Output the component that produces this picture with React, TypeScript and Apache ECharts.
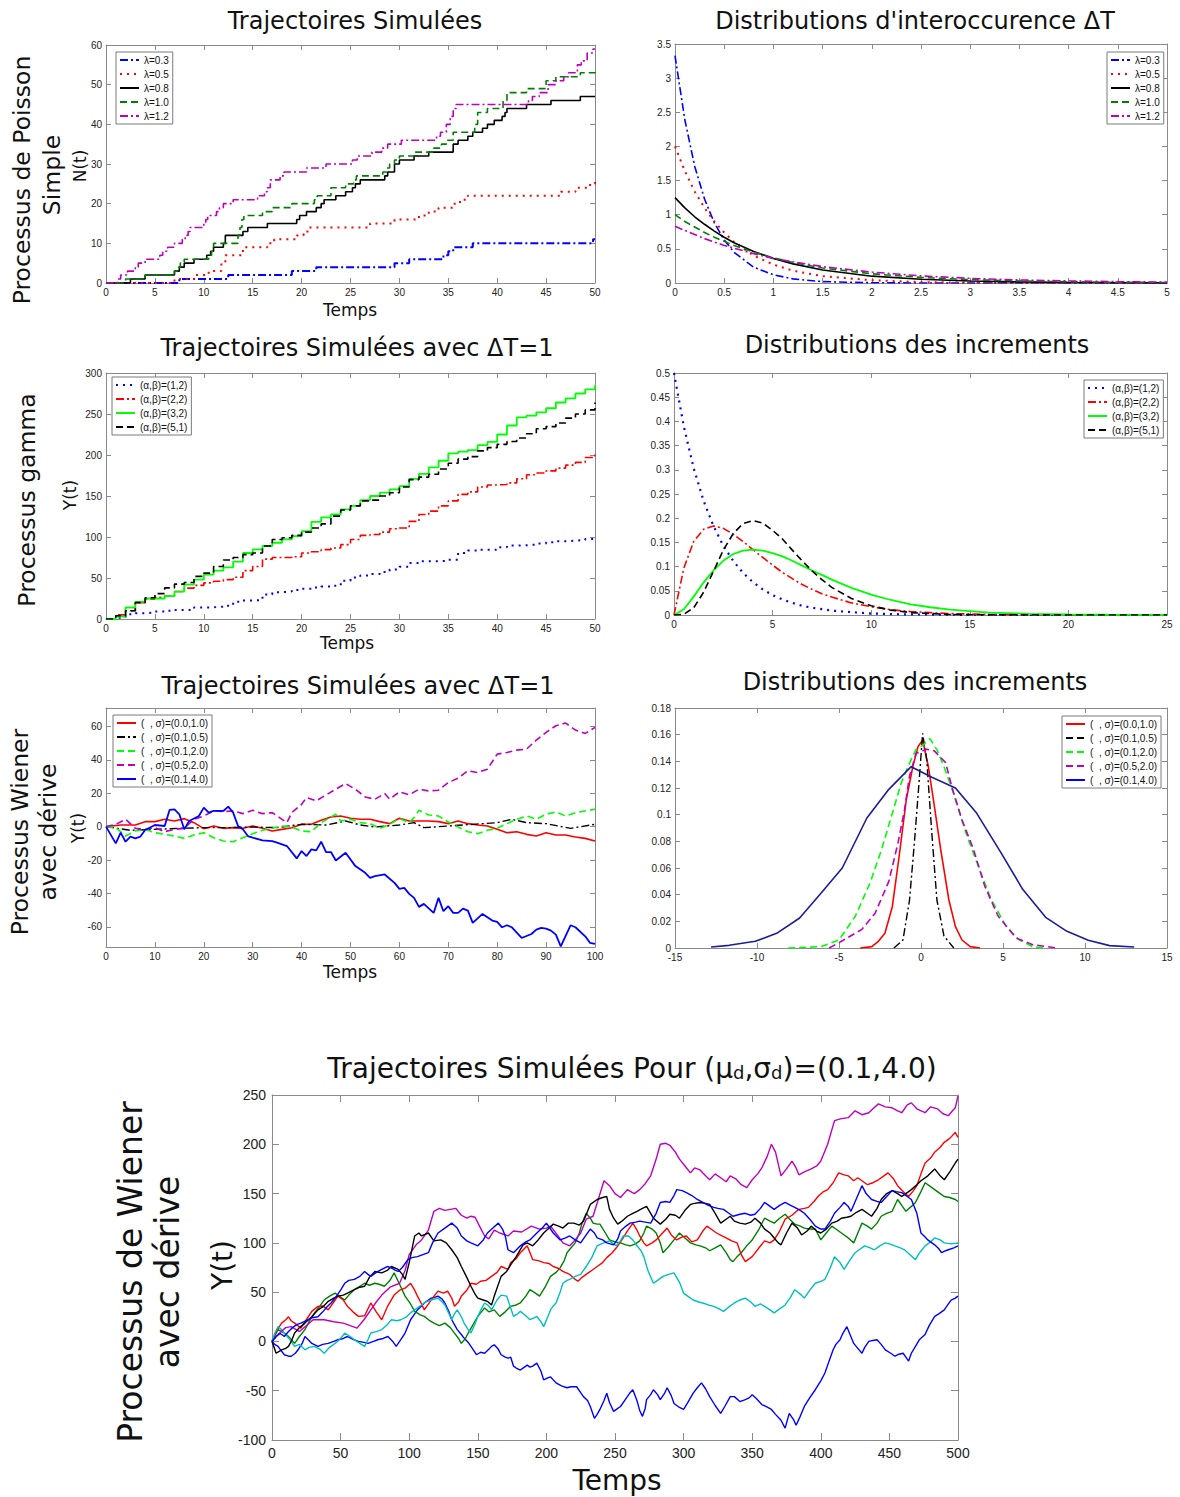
import React, { useEffect, useRef } from 'react';
import * as echarts from 'echarts';

// ---------- Panel 1 : Poisson trajectories (jump times / counts) ----------
const lambdaNames = ['λ=0.3', 'λ=0.5', 'λ=0.8', 'λ=1.0', 'λ=1.2'];
const poisT03 = [0, 7.5, 12.5, 19, 21.5, 29.5, 31, 34.5, 35, 35.5, 37.5, 49.8, 50];
const poisN03 = [0, 1, 2, 3, 4, 5, 6, 7, 8, 9, 10, 11, 11];
const poisT05 = [0, 7, 9, 10.5, 11.8, 12.2, 14, 16.5, 17.2, 19.5, 20.2, 20.8, 27, 29.5, 32, 33, 34, 35.5, 36.2, 37, 46.5, 48, 49.5, 50];
const poisN05 = [0, 1, 2, 3, 5, 7, 9, 10, 11, 12, 13, 14, 15, 16, 17, 18, 19, 20, 21, 22, 23, 24, 25, 26];
const poisT08 = [0, 2.5, 4, 7, 7.5, 8, 9, 10.3, 10.7, 11, 12, 12.2, 14, 14.5, 16.5, 19.5, 19.8, 20.5, 21.5, 22, 22.3, 23.5, 24.5, 25.2, 25.5, 26, 28.5, 28.8, 29.5, 30, 31.5, 33, 35.5, 36, 37, 37.5, 38.5, 39, 39.7, 40.5, 40.8, 41, 43, 45.5, 48.5, 50];
const poisN08 = [0, 1, 2, 3, 4, 5, 6, 7, 8, 9, 10, 12, 13, 14, 15, 16, 17, 18, 19, 20, 21, 22, 23, 24, 25, 26, 27, 28, 30, 31, 32, 33, 35, 36, 37, 38, 39, 40, 41, 42, 43, 44, 45, 46, 47, 47];
const poisT10 = [0, 2, 4, 7, 7.3, 7.6, 8, 10.5, 10.8, 11, 13.5, 13.7, 13.9, 14.1, 16, 17, 19, 21.3, 21.6, 23, 24.5, 25.3, 25.6, 28.3, 28.7, 29, 29.5, 30, 31.5, 33.5, 34.3, 34.8, 35.5, 37.7, 38, 39, 40.6, 41, 43, 45, 46, 48.5, 50];
const poisN10 = [0, 1, 2, 3, 4, 5, 6, 7, 8, 10, 12, 14, 16, 17, 18, 19, 20, 21, 22, 24, 25, 26, 27, 28, 29, 30, 31, 32, 33, 34, 35, 36, 38, 40, 43, 44, 46, 48, 49, 51, 52, 53, 54];
const poisT12 = [0, 1.2, 1.5, 2.2, 3.0, 3.3, 4.0, 5.5, 5.8, 6.3, 7.0, 7.8, 8.1, 8.4, 8.6, 10.0, 10.2, 10.4, 11.3, 11.6, 12.0, 13.0, 15.5, 16.2, 16.5, 16.8, 17.8, 18.2, 20.5, 22.5, 25.2, 25.7, 27.2, 28.2, 28.8, 30.2, 33.8, 34.2, 34.8, 35.2, 35.5, 35.8, 43.2, 43.6, 44.3, 45.2, 46.0, 46.8, 47.3, 48.2, 48.6, 49.2, 49.8, 50];
const poisN12 = [0, 1, 2, 3, 4, 5, 6, 7, 8, 9, 10, 11, 12, 13, 14, 15, 16, 17, 18, 19, 20, 21, 22, 23, 24, 26, 27, 28, 29, 30, 31, 32, 33, 34, 35, 36, 37, 38, 40, 42, 44, 45, 46, 47, 48, 50, 51, 52, 53, 55, 56, 58, 59, 59];

// ---------- Panel 2 : interoccurrence densities ----------
const expX = [0, 0.1, 0.2, 0.3, 0.4, 0.5, 0.6, 0.8, 1, 1.2, 1.5, 2, 2.5, 3, 3.5, 4, 4.5, 5];
const exp03 = [3.33, 2.39, 1.71, 1.23, 0.88, 0.63, 0.45, 0.23, 0.12, 0.06, 0.02, 0.004, 0, 0, 0, 0, 0, 0];
const exp05 = [2.0, 1.64, 1.34, 1.10, 0.90, 0.74, 0.60, 0.40, 0.27, 0.18, 0.10, 0.04, 0.013, 0.005, 0.002, 0, 0, 0];
const exp08 = [1.25, 1.10, 0.97, 0.86, 0.76, 0.67, 0.59, 0.46, 0.36, 0.28, 0.19, 0.10, 0.055, 0.029, 0.016, 0.008, 0.004, 0.002];
const exp10 = [1.0, 0.90, 0.82, 0.74, 0.67, 0.61, 0.55, 0.45, 0.37, 0.30, 0.22, 0.135, 0.082, 0.05, 0.03, 0.018, 0.011, 0.007];
const exp12 = [0.83, 0.77, 0.71, 0.65, 0.60, 0.55, 0.51, 0.43, 0.36, 0.31, 0.24, 0.16, 0.104, 0.068, 0.045, 0.030, 0.020, 0.013];

// ---------- Panel 3 : gamma process trajectories (ΔT=1) ----------
const gammaNames = ['(α,β)=(1,2)', '(α,β)=(2,2)', '(α,β)=(3,2)', '(α,β)=(5,1)'];
const gam12 = [0, 1.6, 5.7, 7, 7.8, 9, 10, 11, 11, 14, 14.3, 15, 16.3, 21, 22.5, 23, 30, 32.7, 33.5, 35.5, 36.8, 38.4, 39.6, 40.5, 46.6, 50.7, 53, 54.8, 57.2, 60.5, 63.8, 68.2, 70.3, 70.3, 71, 72.3, 80.5, 83.4, 84.6, 84.6, 87.5, 89.5, 90, 90.7, 92, 93.6, 94.8, 95.6, 96.4, 97.7, 99.7];
const gam22 = [0, 5, 10, 20, 24, 26.5, 28, 33.5, 37.6, 41, 44, 46, 48, 51, 59, 64, 73, 75, 75, 76, 80.5, 82, 84.6, 86.6, 90.7, 97, 102, 103, 106, 110, 111, 119, 127.5, 131.6, 138, 144, 152, 155, 161, 163.5, 164, 166, 171, 176, 178, 180.6, 184, 187.6, 191, 197, 204];
const gam32 = [0, 3, 14, 21, 25, 25, 28, 33.5, 42, 48, 54, 59, 63, 70, 80.5, 85, 89, 93, 97, 101, 107, 118.5, 124, 127.5, 133.6, 138, 145, 150, 154, 158, 162, 171, 177, 185, 193, 202, 204, 206, 212, 216, 225, 236, 246, 248, 252, 257, 264, 269, 275, 280, 285];
const gam51 = [0, 4, 10, 20, 26, 31, 38, 42.5, 44.5, 52, 56, 64, 72, 75, 78.5, 80.5, 89, 97, 99, 102, 106, 111, 116, 125.5, 133, 138, 144, 145, 150, 154, 161, 170, 173, 176.5, 183, 190, 195, 198, 205, 209, 213, 216.5, 220.7, 226, 232, 234.6, 239, 245, 250, 255, 264];

// ---------- Panel 4 : gamma increment densities ----------
const gamX = [0, 0.5, 1, 1.5, 2, 2.5, 3, 3.5, 4, 4.5, 5, 5.5, 6, 6.5, 7, 7.5, 8, 9, 10, 11, 12, 13, 14, 16, 18, 20, 22, 25];
const gpdf12 = [0.5, 0.389, 0.303, 0.236, 0.184, 0.143, 0.112, 0.087, 0.068, 0.053, 0.041, 0.032, 0.025, 0.019, 0.015, 0.012, 0.009, 0.006, 0.003, 0.002, 0.001, 0.001, 0.0005, 0.0002, 0.0001, 0, 0, 0];
const gpdf22 = [0, 0.097, 0.152, 0.177, 0.184, 0.179, 0.167, 0.152, 0.135, 0.119, 0.103, 0.088, 0.075, 0.063, 0.053, 0.044, 0.037, 0.025, 0.017, 0.011, 0.007, 0.005, 0.003, 0.001, 0.0006, 0.0002, 0.0001, 0];
const gpdf32 = [0, 0.012, 0.038, 0.067, 0.092, 0.112, 0.126, 0.133, 0.135, 0.133, 0.128, 0.121, 0.112, 0.102, 0.092, 0.083, 0.073, 0.056, 0.042, 0.031, 0.022, 0.016, 0.011, 0.005, 0.0025, 0.001, 0.0005, 0.0001];
const gpdf51 = [0, 0.0016, 0.015, 0.047, 0.090, 0.134, 0.168, 0.189, 0.195, 0.190, 0.175, 0.157, 0.134, 0.112, 0.091, 0.073, 0.057, 0.034, 0.019, 0.010, 0.005, 0.003, 0.001, 0.0003, 0.0001, 0, 0, 0];

// ---------- Panel 5 : Wiener trajectories ----------
const wienerNames = ['(\u00a0\u00a0, σ)=(0.0,1.0)', '(\u00a0\u00a0, σ)=(0.1,0.5)', '(\u00a0\u00a0, σ)=(0.1,2.0)', '(\u00a0\u00a0, σ)=(0.5,2.0)', '(\u00a0\u00a0, σ)=(0.1,4.0)'];
const wRed = [[0,0],[3,1],[6,1],[8,3],[10,3],[12,4.4],[14,3.4],[16,4.8],[18,2.4],[20,-1.2],[22,0.4],[24,-1],[26,-0.6],[28,-1],[30,0.4],[32,-1],[34,-2.6],[36,-1.6],[38,-0.6],[40,1.4],[42,1.4],[44,3.8],[46,5.8],[48,6.4],[50,5],[52,4.4],[54,4.4],[56,3],[58,1.8],[60,5],[62,3.4],[64,3.4],[66,3.4],[68,3],[70,1.8],[72,3.4],[74,1.8],[76,1],[78,0.4],[80,-1.6],[82,-3.6],[84,-3],[86,-4.6],[88,-5.6],[90,-3.6],[92,-5],[94,-5],[96,-6.2],[98,-7],[100,-8.6]];
const wBlack = [[0,0],[5,-2.2],[10,-1.6],[15,-1],[20,-0.6],[25,-0.6],[30,-0.2],[35,-0.6],[40,1.4],[45,1],[49,3.4],[52,1],[55,-0.2],[60,1],[63,2.4],[65,-0.6],[70,0.4],[75,1.4],[80,2.4],[83,4.4],[86,2.4],[90,1.8],[95,-1],[100,1.4]];
const wGreen = [[0,0],[2,-0.6],[4,-5.6],[6,-2.6],[8,-1.6],[10,-3.6],[12,-4.6],[14,-5.6],[16,-7],[18,-5],[20,-3.6],[22,-6.6],[24,-8.6],[26,-9],[28,-6.6],[30,-4.2],[32,-2.2],[34,-1],[36,0.4],[38,-0.2],[40,-2.6],[42,-3],[44,2.4],[46,5.8],[47,7.4],[48,3.4],[50,4.4],[52,2.4],[54,1.8],[56,-1],[58,1.4],[60,4.8],[62,2.4],[63,5.4],[64,9.8],[66,7],[68,6.4],[70,2.8],[72,-0.2],[74,-3],[76,-4.2],[78,-2.2],[80,-1],[82,1.8],[84,4.4],[86,6.4],[88,4.4],[90,7.4],[92,8.8],[94,6.4],[96,8.4],[98,9.4],[100,10.4]];
const wMagenta = [[0,0],[2,1.4],[4,4.4],[6,-1],[8,-1.6],[10,-0.6],[12,-3],[14,-1.6],[16,-1],[18,4.4],[20,6.4],[22,9.4],[24,9],[26,9.4],[28,7.8],[30,9.8],[32,7.8],[34,8.4],[36,4.4],[37,2.4],[38,8.4],[40,13.4],[41,17.4],[43,15.4],[45,19],[47,22.4],[49,25.8],[51,22.4],[53,17.8],[55,16.4],[57,19.8],[58,16.4],[60,20.8],[62,19],[64,22.4],[66,21.4],[68,21.8],[70,26.4],[72,29],[74,33.4],[76,32.4],[78,34.4],[80,43.4],[82,44.4],[84,45.8],[86,46.4],[88,51.8],[90,56.4],[92,60.4],[94,62],[96,57.8],[98,55.8],[100,59.4]];
const wBlue = [[0,0],[2,-10],[3,-3.6],[4,-9],[5,-6],[6,-7],[7,-6],[8,-2],[10,1],[12,0.4],[13,10],[14,10.4],[15,7.4],[16,-1.6],[17,3.4],[19,6.4],[20,11.4],[21,8.4],[22,9.4],[24,9.4],[25,12],[26,8.4],[27,0.4],[28,-1.6],[29,-5.6],[30,-6.6],[32,-8.2],[34,-8.6],[35,-9.6],[37,-11.6],[39,-19],[40,-14.6],[41,-17.6],[42,-13.6],[43,-14.2],[44,-9],[45,-15.2],[46,-15.2],[47,-20.2],[49,-15.6],[51,-23.6],[53,-27.6],[54,-30.6],[55,-29.6],[57,-28.6],[59,-33.6],[60,-37.2],[61,-36.6],[62,-40.2],[63,-42.6],[64,-48],[65,-46.2],[67,-51.6],[68,-42.6],[69,-50.6],[70,-47.6],[71,-51.6],[72,-51.6],[73,-49],[74,-50.2],[75,-57.6],[77,-52.2],[79,-56.2],[80,-57],[81,-60.2],[82,-59],[83,-60.2],[85,-66.6],[87,-64.2],[88,-61.6],[89,-60.6],[90,-61],[91,-62.2],[92,-64.6],[93,-71.6],[95,-59],[96,-60.2],[98,-65.6],[99,-69.6],[100,-70.2]];
const wienerYTicks = [-60, -40, -20, 0, 20, 40, 60];

// ---------- Panel 6 : normal increment densities ----------
const nRed = [[-3.7,0],[-3,0.001],[-2.6,0.005],[-2.2,0.011],[-1.75,0.031],[-1.33,0.069],[-0.9,0.111],[-0.5,0.136],[-0.18,0.151],[0.1,0.156],[0.45,0.136],[0.76,0.111],[1.2,0.074],[1.7,0.036],[2.1,0.016],[2.5,0.006],[3,0.001],[3.6,0]];
const nBlack = [[-1.65,0],[-1.1,0.006],[-0.7,0.036],[-0.39,0.081],[-0.12,0.124],[0.1,0.161],[0.35,0.141],[0.66,0.086],[0.97,0.036],[1.4,0.009],[2,0]];
const nGreen = [[-8.1,0],[-6.1,0.001],[-5,0.006],[-4,0.024],[-3.1,0.049],[-2.4,0.074],[-1.75,0.101],[-1.2,0.124],[-0.8,0.136],[-0.3,0.149],[0.1,0.152],[0.55,0.157],[1,0.148],[1.4,0.136],[1.9,0.119],[2.75,0.086],[3.5,0.061],[4.3,0.036],[5.2,0.016],[6,0.006],[6.8,0.001],[7.5,0]];
const nMagenta = [[-5.6,0],[-5,0.004],[-3.6,0.014],[-2.8,0.026],[-1.96,0.05],[-1.4,0.079],[-1,0.104],[-0.7,0.129],[-0.3,0.146],[0.35,0.149],[0.8,0.148],[1.5,0.139],[1.9,0.12],[2.5,0.096],[3.2,0.074],[3.9,0.046],[4.7,0.024],[5.8,0.0075],[6.8,0.0025],[8.3,0]];
const nBlue = [[-12.8,0.0008],[-11.7,0.002],[-10.1,0.005],[-8.8,0.011],[-7.4,0.0225],[-6.1,0.041],[-4.8,0.06],[-3.3,0.0975],[-1.96,0.119],[-0.6,0.136],[0.66,0.128],[2.1,0.12],[3.4,0.101],[4.9,0.071],[6.2,0.044],[7.6,0.023],[8.9,0.0125],[10.2,0.0058],[11.5,0.0018],[13,0.0008]];

// ---------- Panel 7 : Wiener with drift (μd,σd)=(0.1,4.0) ----------
const trMagenta = [[0,0],[5,8],[10,14],[14,15],[20,10],[25,16],[30,22],[38,22],[45,20],[52,18.6],[57,16],[62,13.5],[67,22],[72,32],[76,40],[80,47],[86,55],[93,59],[97,72],[100,88],[105,98],[109,103],[114,113],[118,132],[122,135],[126,133],[130,134],[134,135],[138,128],[142,125],[145,127],[148,126],[152,115],[155,107],[158,104],[162,113],[166,110],[172,107],[176,112],[182,111],[189,117],[195,114],[200,115],[203,117],[208,108],[212,100],[217,97],[221,103],[225,110],[229,124],[234,127],[238,145],[242,163],[246,158],[250,150],[254,146],[259,154],[264,150],[268,154],[272,160],[276,168],[280,185],[283,200],[287,201],[290,199],[294,192],[297,185],[301,178],[305,171],[308,176],[312,174],[316,168],[319,164],[323,170],[327,166],[331,162],[334,168],[338,165],[342,159],[346,156],[350,164],[354,170],[357,176],[361,188],[364,200],[367,192],[371,168],[375,175],[379,183],[382,176],[384,169],[388,172],[393,175],[397,178],[400,183],[405,200],[410,224],[415,226],[420,227],[425,234],[430,230],[435,232],[438,236],[442,241],[447,238],[452,237],[456,234],[459,232],[463,240],[466,242],[470,236],[476,232],[480,238],[485,236],[489,231],[493,229],[496,234],[498,237],[500,249]];
const trRed = [[0,0],[3,10],[7,18.6],[10,22],[12,25],[14,21],[16.5,18.6],[21,13.5],[25,22],[29,30.5],[33.5,35.6],[37,36],[41,32],[45,40],[48,46],[52,42],[55,35.6],[59,30],[63,25.4],[67.5,26],[72,39],[76,30],[80,22],[84,35],[89,47],[93,52],[97,54],[101,59],[104,52],[106,46],[109,38],[111,32],[116,42],[121,51],[125,49],[128,51],[131,44],[133,35.6],[136,40],[138,46],[142,52],[145,59],[149,58],[152,61],[156,62],[160,66],[164,70],[167,76],[172,73],[174,80],[178,84],[181,90],[186,97],[190,83],[194,82],[198,80],[202,79],[205,76],[209,74],[212,71],[217,68],[220,64],[223,61],[226,65],[229,68],[233,72],[237,76],[241,80],[244,85],[248,90],[251,95],[255,103],[259,112],[263,120],[266,113],[268,107],[271,100],[273,97],[277,100],[280,103],[284,109],[288,115],[291,108],[295,103],[299,106],[302,107],[306,101],[310,103],[314,112],[317,117],[321,113],[324,110],[328,107],[331,105],[335,102],[339,100],[342,88],[345,81],[350,86],[355,95],[359,102],[363,100],[366,103],[370,112],[374,124],[379,128],[384,134],[388,135],[391,136],[395,142],[398,147],[402,152],[405,154],[409,161],[413,171],[417,169],[420,168],[424,163],[427,166],[431,162],[434,159],[438,161],[442,164],[446,168],[449,171],[453,165],[456,158],[460,152],[464,147],[467,152],[470,158],[473,170],[476,181],[480,186],[483,192],[487,197],[490,202],[494,206],[498,212],[500,207]];
const trBlack = [[0,0],[3,-12],[7,-8.5],[10,-7],[12,-5],[14,0],[16.5,8.5],[20,14],[24,18.6],[29,25],[33.5,32],[37,35],[41,40.7],[45,44],[48,46],[52,47],[55,49],[60,52.5],[64,55],[67.5,56],[71,65],[75,71],[80,69.5],[84,72],[87,76],[92,73],[95,68],[97,63],[100,80],[104,107],[107,110],[109,107],[114,110],[118,102],[123,103],[127,100],[131,93],[135,85],[138,76],[142,65],[145,56],[148,48],[150,44],[154,42],[157,40.7],[160,37],[162,46],[167,66],[171,71],[175,80],[178,86],[183,98],[186,100],[190,97],[194,103],[198,110],[202,115],[205,119],[209,117],[212,115],[216,120],[220,120],[224,118],[227,122],[230,132],[232,139],[237,144],[241,146],[244,147],[246,134],[249,125],[252,119],[255,122],[259,127],[263,130],[266,132],[270,135],[273,137],[276,130],[278,125],[283,119],[287,124],[290,129],[294,128],[297,125],[301,133],[305,139],[308,140],[312,141],[316,140],[319,139],[323,130],[327,120],[331,124],[334,127],[337,122],[341,120],[345,119],[349,121],[352,125],[356,120],[359,114],[363,110],[366,105],[369,100],[371,98],[375,110],[379,120],[383,115],[386,108],[390,112],[393,117],[397,112],[400,110],[404,114],[408,120],[412,122],[415,125],[419,126],[422,127],[426,131],[430,134],[434,130],[437,127],[441,135],[444,144],[448,150],[452,153],[456,150],[459,147],[463,151],[466,154],[470,159],[473,163],[478,168],[483,175],[487,168],[490,164],[494,172],[498,181],[500,185]];
const trGreen = [[0,0],[3,8],[4.4,12],[7,10],[9,8.5],[12,5],[16.5,-2],[20,5],[24,12],[27,20],[31,29],[35,36],[38,42],[42,46],[46,49],[49,46],[53,42],[56,47],[60,52.5],[64,56],[67.5,59],[71,57],[75,59],[78,58],[82,56],[86,62],[89,69.5],[93,58],[97,46],[101,38],[104,30.5],[108,27],[111,25.4],[115,21],[118,18.6],[122,16],[126,18.6],[130,14],[133,8.5],[136,3],[138,-2],[141,3],[143,8.5],[147,18],[150,25.4],[155,34],[158,30],[162,32],[166,25.4],[170,30],[174,35.6],[178,37],[181,39],[185,46],[188,52.5],[192,49],[195,46],[199,55],[203,66],[207,70],[210,74.6],[213,82],[215,90],[218,95],[221,100],[224,110],[226,120],[229,130],[232,125],[234,120],[237,119],[239,119],[243,110],[246,103],[250,101],[254,100],[258,98],[261,97],[265,99],[268,102],[271,110],[273,117],[277,114],[280,110],[283,100],[285,90],[289,96],[293,103],[297,110],[301,105],[305,100],[309,98],[312,97],[316,95],[319,92],[323,95],[327,98],[331,90],[334,83],[336,81],[339,86],[342,90],[346,97],[350,103],[355,114],[359,125],[363,122],[366,120],[370,125],[374,129],[378,123],[381,119],[385,117],[388,115],[392,114],[396,114],[400,103],[404,110],[408,117],[412,113],[415,110],[420,105],[424,100],[427,110],[430,120],[434,117],[437,114],[441,120],[444,127],[448,130],[452,132],[456,144],[459,138],[462,132],[466,137],[469,141],[473,152],[476,161],[480,157],[483,154],[487,150],[490,147],[494,146],[498,144],[500,142]];
const trCyan = [[0,0],[2,8],[4.4,15],[7,12],[9,8.5],[13,2],[16.5,-5],[20,-3],[24,-8.5],[27,-6],[31,-5],[35,-8],[38,-12],[42,-6],[46,-2],[50,3],[53,8.5],[57,5],[60,1.7],[64,-2],[67.5,-5],[70,2],[72,8.5],[76,10],[80,12],[84,17],[87,22],[91,21],[94,22],[98,25],[101,29],[105,33],[109,37],[112,40],[116,42],[121,44],[124,40],[126,37],[129,28],[131,22],[133,28],[135,32],[138,25],[140,18.6],[143,12],[145,8.5],[148,18],[150,25.4],[153,34],[155,39],[158,36],[160,32],[164,42],[167,47],[171,46],[174,34],[176,25.4],[179,28],[181,30.5],[185,26],[188,22],[191,24],[193,25.4],[196,20],[198,15],[201,25],[203,32],[205,36],[207,39],[210,50],[212,59],[215,62],[217,63],[221,66],[225,68],[227,72],[229,76],[233,85],[237,97],[240,99],[242,100],[246,102],[249,99],[251,97],[254,102],[256,107],[260,107],[263,103],[266,97],[269,92],[271,86],[274,72],[278,59],[281,62],[285,66],[289,68],[293,69.5],[297,60],[300,49],[304,45],[307,42],[311,40],[314,39],[318,37],[322,35.6],[326,33],[329,30.5],[333,35],[337,39],[341,42],[345,44],[349,40],[352,35.6],[356,38],[359,35.6],[363,32],[366,29],[370,33],[374,37],[378,45],[381,52.5],[385,48],[388,44],[392,52],[396,59],[400,61],[403,63],[407,75],[410,86],[414,80],[417,73],[421,82],[425,90],[429,94],[432,97],[436,95],[439,93],[443,97],[447,100],[450,99],[454,97],[458,95],[461,93],[465,88],[469,83],[472,90],[476,97],[480,101],[483,105],[487,103],[490,100],[495,99],[500,100]];
const trBlueUp = [[0,0],[3,5],[6,8],[9,5],[12,10],[15,14],[18,17],[21,18.6],[25,21],[29,24],[33.5,25],[37,30],[40,35],[43,39],[47,46],[50,52],[53,59],[56,62],[60,63],[64,66],[67.5,71],[70,68],[72,66],[76,70],[80,73],[84,76],[87,74.6],[90,72],[92,71],[95,75],[99,83],[102,85],[106,86],[110,88],[114,90],[117,100],[121,110],[126,115],[131,120],[135,115],[138,107],[142,102],[145,100],[150,97],[154,103],[157,110],[161,115],[165,120],[168,114],[170,107],[172,93],[176,90],[181,97],[185,101],[188,103],[193,110],[197,115],[200,120],[205,110],[210,103],[214,105],[217,107],[221,103],[225,100],[229,108],[232,114],[235,110],[237,105],[241,103],[244,100],[249,98],[252,104],[254,112],[258,117],[261,120],[265,121],[268,122],[272,121],[276,120],[280,130],[283,141],[287,142],[290,141],[293,148],[295,154],[299,153],[302,151],[306,148],[310,144],[314,141],[318,138],[322,136],[325,135],[329,134],[333,130],[336,127],[341,129],[345,130],[349,128],[352,129],[356,135],[359,141],[363,137],[366,134],[370,138],[374,141],[378,138],[381,136],[385,133],[388,130],[392,124],[396,117],[400,114],[403,114],[407,122],[410,130],[414,136],[417,141],[420,137],[422,132],[426,145],[430,158],[433,150],[437,144],[441,142],[444,141],[448,147],[452,153],[455,152],[459,151],[463,147],[466,144],[470,130],[473,110],[476,106],[478,103],[481,100],[483,98],[486,94],[488,90],[491,92],[493,93],[497,95],[500,97]];
const trBlueLow = [[0,0],[2,-3],[4.4,-5],[7,-10],[9,-13.5],[12,-15],[14,-15],[17,-12],[19,-8.5],[22,-2],[24,5],[27,1],[29,-2],[33.5,-5],[37,-3],[41,-2],[45,0],[48,1.7],[52,3],[55,5],[59,2],[63,0],[67,-1],[70,-2],[74,0],[77,1.7],[81,3],[84.5,5],[88,0],[90.5,-5],[94,2],[97,8.5],[101,22],[104,28],[106,32],[109,36],[111,39],[114,42],[116,44],[119,45],[121,46],[124,43],[126,39],[129,30],[131,22],[133,17],[135,12],[138,7],[140,3.4],[143,-1],[145,-5],[147,-9],[149,-13.5],[152,-11],[155,-12],[158,-8],[160,-5],[162,-3.4],[165,-8],[167,-13.5],[170,-16],[172,-17],[174,-16],[176,-25],[178,-27],[181,-29],[184,-26],[186,-24],[188,-26],[190,-25],[193,-22],[196,-30],[198,-39],[201,-37],[203,-36],[205,-39],[207,-42],[211,-45],[215,-47],[218,-46],[222,-46],[225,-52],[227,-56],[230,-60],[232,-66],[235,-78],[237,-74],[239,-69],[242,-60],[244,-52.5],[246,-62],[249,-71],[251,-69],[254,-66],[257,-60],[259,-56],[261,-52],[263,-49],[266,-60],[268,-70],[270,-76],[272,-68],[273,-59],[276,-54],[278,-49],[281,-54],[283,-59],[286,-53],[288,-47],[291,-55],[293,-63],[297,-67],[300,-69],[303,-62],[307,-52.5],[310,-47],[313,-42],[316,-48],[319,-56],[323,-65],[327,-73],[330,-66],[334,-56],[337,-56],[341,-61],[345,-59],[348,-57],[350,-54],[353,-58],[357,-64],[360,-66],[364,-69],[367,-74],[371,-80],[374,-88],[377,-73],[380,-79],[382,-85],[385,-76],[388,-66],[392,-57],[396,-49],[400,-40],[403,-32],[406,-20],[409,-8.5],[411,-3],[414,1.7],[416,8],[419,15],[421,8],[424,-2],[427,-7],[430,-12],[432,-6],[435,0],[438,1],[441,1.7],[444,-3],[447,-8.5],[451,-12],[454,-15],[457,-13],[460,-12],[462,-16],[464,-20],[466,-12],[469,-5],[472,2],[476,7],[479,16],[483,25.4],[486,28],[490,32],[493,38],[495,42],[498,44],[500,46]];

// ---------- styling ----------
const BLUE = '#0000ff', RED = '#ff0000', BLACK = '#000000', DGREEN = '#008000', MAG = '#bf00bf', LGREEN = '#00ff00', CYAN = '#00bfbf', NAVY = '#1c1c9c';
const DASHDOT = [8, 3, 2, 3];
const DASHED = [7, 4];
const DOTTED = [2, 5];
const AX = '#8a8a8a';
const TICKFONT = 'Liberation Sans';
const TEXTFONT = 'DejaVu Sans';

const grids = [
  { left: 106, top: 45, width: 489, height: 238 },
  { left: 675, top: 44, width: 492, height: 239 },
  { left: 106, top: 373, width: 489, height: 246 },
  { left: 674, top: 373, width: 493, height: 242 },
  { left: 106, top: 708, width: 489, height: 239 },
  { left: 675, top: 708, width: 492, height: 240 },
  { left: 272, top: 1095, width: 686, height: 345 },
];
const axSpecs: any[] = [
  { x: { min: 0, max: 50, interval: 5 }, y: { min: 0, max: 60, interval: 10 }, fs: 10 },
  { x: { min: 0, max: 5, interval: 0.5 }, y: { min: 0, max: 3.5, interval: 0.5 }, fs: 10 },
  { x: { min: 0, max: 50, interval: 5 }, y: { min: 0, max: 300, interval: 50 }, fs: 10 },
  { x: { min: 0, max: 25, interval: 5 }, y: { min: 0, max: 0.5, interval: 0.05 }, fs: 10 },
  { x: { min: 0, max: 100, interval: 10 }, y: { min: -72, max: 71, custom: wienerYTicks }, fs: 10 },
  { x: { min: -15, max: 15, interval: 5 }, y: { min: 0, max: 0.18, interval: 0.02 }, fs: 10 },
  { x: { min: 0, max: 500, interval: 50 }, y: { min: -100, max: 250, interval: 50 }, fs: 14 },
];

function mkAxis(gi: number, pos: string, s: any, labels: boolean, fs: number) {
  const a: any = {
    type: 'value', gridIndex: gi, position: pos, min: s.min, max: s.max,
    axisLine: { show: true, onZero: false, lineStyle: { color: AX, width: 1 } },
    axisTick: { show: true, inside: true, length: fs > 10 ? 7 : 5, lineStyle: { color: AX } },
    axisLabel: { show: labels, fontSize: fs, color: '#222', fontFamily: TICKFONT, margin: fs > 10 ? 6 : 4, showMinLabel: true, showMaxLabel: true },
    splitLine: { show: false },
  };
  if (s.custom) {
    a.axisTick.customValues = s.custom;
    a.axisLabel.customValues = s.custom;
  } else {
    a.interval = s.interval;
  }
  return a;
}

function ln(gi: number, name: string | undefined, data: any[], color: string, type: any, width: number, step?: string) {
  const s: any = {
    type: 'line', xAxisIndex: gi * 2, yAxisIndex: gi * 2, data,
    symbol: 'none', showSymbol: false, silent: true, clip: true, animation: false,
    lineStyle: { color, width, type, cap: 'butt' }, itemStyle: { color },
  };
  if (name) s.name = name;
  if (step) s.step = step;
  return s;
}

const pairs = (xs: number[], ys: number[]) => xs.map((x, i) => [x, ys[i]]);
const idxPairs = (ys: number[]) => ys.map((y, i) => [i, y]);

function txt(text: string, x: number, y: number, size: number, rot = 0, extra: any = {}) {
  return {
    type: 'text', x, y, rotation: rot, silent: true,
    style: { text, fontSize: size, fontFamily: TEXTFONT, fill: '#111', align: 'center', verticalAlign: 'middle', textAlign: 'center', textVerticalAlign: 'middle', ...extra },
  };
}

function legend(left: number, top: number, data: any[]) {
  return {
    orient: 'vertical', left, top, data, selectedMode: false,
    itemWidth: 19, itemHeight: 10, itemGap: 4,
    itemStyle: { opacity: 0, borderWidth: 0 },
    textStyle: { fontSize: 10, fontFamily: TICKFONT, color: '#111' },
    borderColor: '#7a7a7a', borderWidth: 1, borderRadius: 0, backgroundColor: '#ffffff',
    padding: [3, 4, 3, 3],
  };
}

function buildOption() {
  const xAxis: any[] = [];
  const yAxis: any[] = [];
  axSpecs.forEach((s, gi) => {
    xAxis.push(mkAxis(gi, 'bottom', s.x, true, s.fs));
    xAxis.push(mkAxis(gi, 'top', s.x, false, s.fs));
    yAxis.push(mkAxis(gi, 'left', s.y, true, s.fs));
    yAxis.push(mkAxis(gi, 'right', s.y, false, s.fs));
  });

  const series: any[] = [
    // panel 1
    ln(0, lambdaNames[0], pairs(poisT03, poisN03), BLUE, DASHDOT, 2, 'end'),
    ln(0, lambdaNames[1], pairs(poisT05, poisN05), RED, DOTTED, 2, 'end'),
    ln(0, lambdaNames[2], pairs(poisT08, poisN08), BLACK, 'solid', 1.6, 'end'),
    ln(0, lambdaNames[3], pairs(poisT10, poisN10), DGREEN, DASHED, 1.6, 'end'),
    ln(0, lambdaNames[4], pairs(poisT12, poisN12), MAG, DASHDOT, 1.6, 'end'),
    // panel 2
    ln(1, lambdaNames[0], pairs(expX, exp03), BLUE, DASHDOT, 1.6),
    ln(1, lambdaNames[1], pairs(expX, exp05), RED, DOTTED, 2),
    ln(1, lambdaNames[2], pairs(expX, exp08), BLACK, 'solid', 1.6),
    ln(1, lambdaNames[3], pairs(expX, exp10), DGREEN, DASHED, 1.6),
    ln(1, lambdaNames[4], pairs(expX, exp12), MAG, DASHDOT, 1.6),
    // panel 3
    ln(2, gammaNames[0], idxPairs(gam12), BLUE, DOTTED, 2, 'end'),
    ln(2, gammaNames[1], idxPairs(gam22), RED, DASHDOT, 1.6, 'end'),
    ln(2, gammaNames[2], idxPairs(gam32), LGREEN, 'solid', 1.8, 'end'),
    ln(2, gammaNames[3], idxPairs(gam51), BLACK, DASHED, 1.6, 'end'),
    // panel 4
    ln(3, gammaNames[0], pairs(gamX, gpdf12), BLUE, DOTTED, 2.2),
    ln(3, gammaNames[1], pairs(gamX, gpdf22), RED, DASHDOT, 1.6),
    ln(3, gammaNames[2], pairs(gamX, gpdf32), LGREEN, 'solid', 1.8),
    ln(3, gammaNames[3], pairs(gamX, gpdf51), BLACK, DASHED, 1.6),
    // panel 5
    ln(4, wienerNames[0], wRed, RED, 'solid', 1.6),
    ln(4, wienerNames[1], wBlack, BLACK, DASHDOT, 1.4),
    ln(4, wienerNames[2], wGreen, LGREEN, DASHED, 1.6),
    ln(4, wienerNames[3], wMagenta, MAG, DASHED, 1.6),
    ln(4, wienerNames[4], wBlue, BLUE, 'solid', 1.8),
    // panel 6
    ln(5, wienerNames[0], nRed, RED, 'solid', 1.6),
    ln(5, wienerNames[1], nBlack, BLACK, DASHDOT, 1.4),
    ln(5, wienerNames[2], nGreen, LGREEN, DASHED, 1.6),
    ln(5, wienerNames[3], nMagenta, MAG, DASHED, 1.6),
    ln(5, wienerNames[4], nBlue, NAVY, 'solid', 1.6),
    // panel 7
    ln(6, undefined, trBlueLow, BLUE, 'solid', 1.4),
    ln(6, undefined, trGreen, DGREEN, 'solid', 1.4),
    ln(6, undefined, trRed, RED, 'solid', 1.4),
    ln(6, undefined, trCyan, CYAN, 'solid', 1.4),
    ln(6, undefined, trMagenta, MAG, 'solid', 1.4),
    ln(6, undefined, trBlack, BLACK, 'solid', 1.4),
    ln(6, undefined, trBlueUp, BLUE, 'solid', 1.4),
  ];

  const legends = [
    legend(116, 52, lambdaNames),
    legend(1107, 52, lambdaNames),
    legend(112, 377, gammaNames),
    legend(1084, 380, gammaNames),
    legend(113, 715, wienerNames),
    legend(1062, 716, wienerNames.map((n, i) => (i === 1 ? { name: n, lineStyle: { type: DASHED } } : n))),
  ];

  const R = Math.PI / 2;
  const graphic = [
    txt('Trajectoires Simulées', 355, 21, 24),
    txt("Distributions d'interoccurence ΔT", 915, 21, 24),
    txt('Trajectoires Simulées avec ΔT=1', 357, 348, 24),
    txt('Distributions des increments', 917, 345, 24),
    txt('Trajectoires Simulées avec ΔT=1', 358, 686, 24),
    txt('Distributions des increments', 915, 682, 24),
    {
      type: 'text', x: 632, y: 1068, silent: true,
      style: {
        text: 'Trajectoires Simulées Pour (μ{s|d},σ{s|d})=(0.1,4.0)',
        fontSize: 28, fontFamily: TEXTFONT, fill: '#111', align: 'center', verticalAlign: 'middle', textAlign: 'center', textVerticalAlign: 'middle',
        rich: { s: { fontSize: 18, fontFamily: TEXTFONT, fill: '#111', padding: [9, 0, 0, 0] } },
      },
    },
    txt('Processus de Poisson', 22, 180, 23.5, R),
    txt('Simple', 52, 175, 23.5, R),
    txt('N(t)', 80, 166, 17, R),
    txt('Temps', 350, 310, 17),
    txt('Processus gamma', 27, 500, 23.5, R),
    txt('Y(t)', 70, 495, 17, R),
    txt('Temps', 347, 643, 17),
    txt('Processus Wiener', 20, 832, 23.5, R),
    txt('avec dérive', 48, 832, 23.5, R),
    txt('Y(t)', 78, 828, 17, R),
    txt('Temps', 350, 972, 17),
    txt('Processus de Wiener', 130, 1272, 33, R),
    txt('avec dérive', 167, 1272, 33, R),
    txt('Y(t)', 222, 1265, 28, R),
    txt('Temps', 617, 1480, 28),
  ];

  return {
    animation: false,
    backgroundColor: '#ffffff',
    grid: grids.map((g) => ({ ...g, containLabel: false, show: false })),
    xAxis,
    yAxis,
    legend: legends,
    series,
    graphic,
  };
}

export default function App() {
  const ref = useRef<HTMLDivElement>(null);
  useEffect(() => {
    document.body.style.margin = '0';
    const chart = echarts.init(ref.current as HTMLDivElement, null, { renderer: 'svg' });
    chart.setOption(buildOption() as any);
    return () => chart.dispose();
  }, []);
  return <div ref={ref} style={{ width: 1180, height: 1497, background: '#fff' }} />;
}
